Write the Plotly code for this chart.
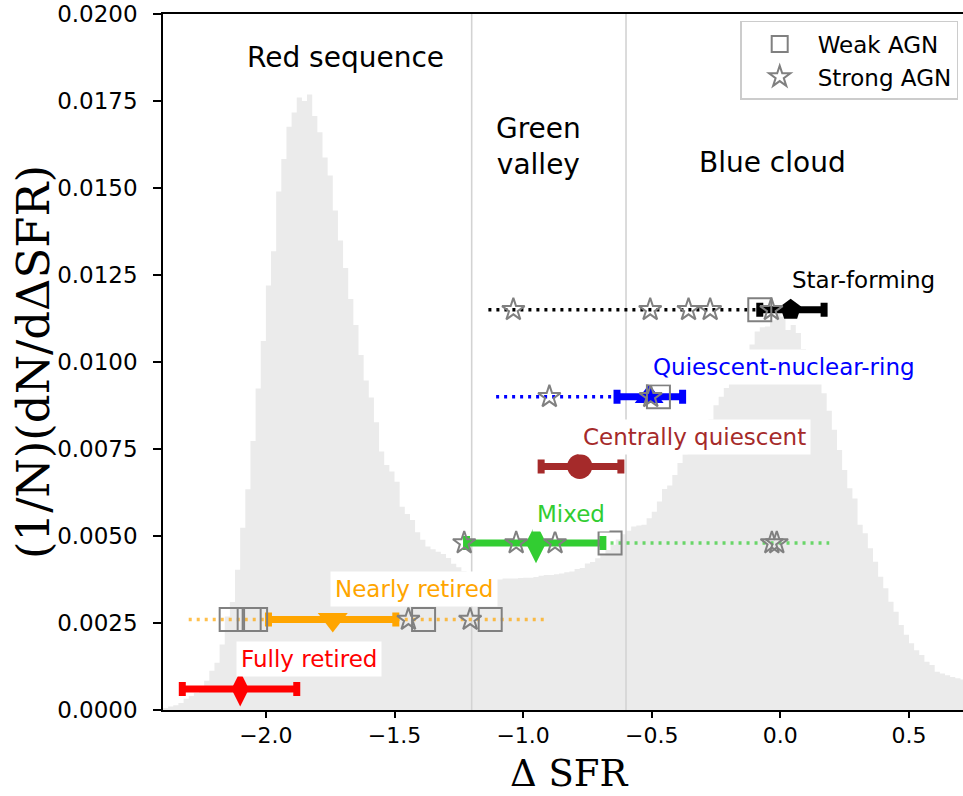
import plotly.graph_objects as go

# ---------------------------------------------------------------------------
# Parent-sample distribution of ΔSFR (normalised histogram, 0.02 dex bins)
# ---------------------------------------------------------------------------
hist_start = -2.40
hist_width = 0.02
hist_density = [
    0.00006, 0.00010, 0.00014, 0.00020, 0.00032, 0.00040, 0.00049, 0.00067,
    0.00084, 0.00113, 0.00136, 0.00188, 0.00269, 0.00310, 0.00403, 0.00524,
    0.00634, 0.00773, 0.00924, 0.01060, 0.01220, 0.01318, 0.01490, 0.01583,
    0.01676, 0.01717, 0.01760, 0.01750, 0.01769, 0.01707, 0.01660, 0.01588,
    0.01536, 0.01435, 0.01349, 0.01270, 0.01181, 0.01106, 0.01020, 0.00947,
    0.00898, 0.00827, 0.00743, 0.00704, 0.00685, 0.00656, 0.00584, 0.00563,
    0.00546, 0.00511, 0.00489, 0.00470, 0.00462, 0.00455, 0.00448, 0.00437,
    0.00420, 0.00410, 0.00399, 0.00392, 0.00388, 0.00384, 0.00380, 0.00377,
    0.00375, 0.00375, 0.00378, 0.00378, 0.00378, 0.00379, 0.00380, 0.00380,
    0.00382, 0.00386, 0.00388, 0.00388, 0.00390, 0.00392, 0.00396, 0.00398,
    0.00405, 0.00408, 0.00421, 0.00425, 0.00436, 0.00445, 0.00460, 0.00475,
    0.00490, 0.00505, 0.00515, 0.00527, 0.00530, 0.00532, 0.00551, 0.00570,
    0.00599, 0.00635, 0.00645, 0.00675, 0.00710, 0.00735, 0.00750, 0.00770,
    0.00795, 0.00815, 0.00835, 0.00876, 0.00900, 0.00925, 0.00950, 0.00970,
    0.00995, 0.01015, 0.01050, 0.01088, 0.01100, 0.01102, 0.01120, 0.01140,
    0.01130, 0.01092, 0.01106, 0.01083, 0.01037, 0.01010, 0.00980, 0.00950,
    0.00910, 0.00860, 0.00805, 0.00747, 0.00690, 0.00637, 0.00608, 0.00532,
    0.00508, 0.00465, 0.00426, 0.00383, 0.00350, 0.00311, 0.00282, 0.00244,
    0.00216, 0.00192, 0.00172, 0.00158, 0.00139, 0.00129, 0.00110, 0.00105,
    0.00100, 0.00095, 0.00091, 0.00088,
]

# Boundaries between red sequence / green valley / blue cloud
region_edges = [-1.2, -0.6]
region_names = ["Red sequence", "Green<br>valley", "Blue cloud"]
region_label_x = [-1.69, -0.94, -0.03]
region_label_y = [0.01874, 0.01620, 0.01572]

# ---------------------------------------------------------------------------
# Galaxy classes: median ΔSFR with spread, plus the full ΔSFR range
# ---------------------------------------------------------------------------
classes = ["Star-forming", "Quiescent-nuclear-ring", "Centrally quiescent",
           "Mixed", "Nearly retired", "Fully retired"]
class_colors = ["black", "blue", "brown", "limegreen", "orange", "red"]
range_colors = ["black", "blue", None, "rgba(50,205,50,0.7)",
                "rgba(255,165,0,0.7)", None]
class_y = [0.0115, 0.0090, 0.0070, 0.0048, 0.0026, 0.0006]
class_median = [0.04, -0.51, -0.78, -0.95, -1.74, -2.10]
class_err_minus = [0.12, 0.125, 0.15, 0.27, 0.25, 0.225]
class_err_plus = [0.13, 0.13, 0.16, 0.26, 0.245, 0.22]
class_symbols = ["pentagon", "triangle-up", "circle", "diamond-tall",
                 "triangle-down", "diamond-tall"]
class_marker_size = [22, 25, 25, 29, 26, 25]
class_range_lo = [-1.135, -1.105, None, -1.22, -2.30, None]
class_range_hi = [0.04, -0.51, None, 0.19, -0.91, None]
label_x = [0.325, 0.014, -0.332, -0.813, -1.424, -1.831]
label_y = [0.01236, 0.00986, 0.00784, 0.00563, 0.00348, 0.00147]

# ΔSFR of AGN hosts in each class
weak_agn = [[-0.08], [-0.474], [], [-0.662],
            [-2.135, -2.065, -2.04, -1.387, -1.128], []]
strong_agn = [[-1.038, -0.506, -0.357, -0.273, -0.035],
              [-0.898, -0.504], [],
              [-1.229, -1.027, -0.876, -0.033, -0.014],
              [-1.446, -1.206], []]

x_range = [-2.4, 0.71]
y_range = [0.0, 0.02]
x_ticks = [-2.0, -1.5, -1.0, -0.5, 0.0, 0.5]
y_ticks = [0.0, 0.0025, 0.005, 0.0075, 0.01, 0.0125, 0.015, 0.0175, 0.02]
x_title = "\u0394 SFR"
y_title = "(1/N)(dN/d\u0394SFR)"

fig = go.Figure()

# Histogram drawn as a filled step curve
edges = [hist_start + i * hist_width for i in range(len(hist_density) + 1)]
fig.add_trace(go.Scatter(
    x=edges, y=hist_density + [hist_density[-1]], mode="lines",
    line=dict(shape="hv", width=0, color="#ebebeb"),
    fill="tozeroy", fillcolor="#ebebeb",
    hoverinfo="skip", showlegend=False,
))

# Region boundaries
for xe in region_edges:
    fig.add_trace(go.Scatter(
        x=[xe, xe], y=y_range, mode="lines",
        line=dict(color="#d3d3d3", width=1.6),
        hoverinfo="skip", showlegend=False,
    ))

# Full ΔSFR range of each class (dotted)
for lo, hi, y, col in zip(class_range_lo, class_range_hi, class_y, range_colors):
    if lo is None:
        continue
    fig.add_trace(go.Scatter(
        x=[lo, hi], y=[y, y], mode="lines",
        line=dict(color=col, width=3.5, dash="3px,5px"),
        hoverinfo="skip", showlegend=False,
    ))

# Median and spread of each class
for name, m, y, em, ep, col, sym, sz in zip(
        classes, class_median, class_y, class_err_minus, class_err_plus,
        class_colors, class_symbols, class_marker_size):
    fig.add_trace(go.Scatter(
        x=[m], y=[y], mode="markers", name=name,
        marker=dict(symbol=sym, size=sz, color=col, line=dict(width=0)),
        error_x=dict(type="data", symmetric=False, array=[ep],
                     arrayminus=[em], color=col, thickness=7, width=7),
        showlegend=False,
    ))

# AGN hosts
wx, wy = [], []
for y, xs in zip(class_y, weak_agn):
    wx += xs
    wy += [y] * len(xs)
sx, sy = [], []
for y, xs in zip(class_y, strong_agn):
    sx += xs
    sy += [y] * len(xs)

fig.add_trace(go.Scatter(
    x=wx, y=wy, mode="markers", name="Weak AGN",
    marker=dict(symbol="square-open", size=23, color="grey",
                line=dict(width=2, color="grey")),
))
fig.add_trace(go.Scatter(
    x=sx, y=sy, mode="markers", name="Strong AGN",
    marker=dict(symbol="star-open", size=17, color="grey",
                line=dict(width=2, color="grey")),
))

# Class labels
for name, lx, ly, col in zip(classes, label_x, label_y, class_colors):
    fig.add_annotation(
        x=lx, y=ly, xref="x", yref="y", text=name, showarrow=False,
        font=dict(family="DejaVu Sans", size=23, color=col),
        bgcolor="white", borderpad=4,
    )

# Region labels
for name, lx, ly in zip(region_names, region_label_x, region_label_y):
    fig.add_annotation(
        x=lx, y=ly, xref="x", yref="y", text=name, showarrow=False,
        font=dict(family="DejaVu Sans", size=28, color="black"),
    )

# Axis titles
fig.add_annotation(
    x=0.5075, y=-0.1236, xref="paper", yref="paper",
    xanchor="center", yanchor="bottom", text=x_title, showarrow=False,
    borderpad=0, font=dict(family="DejaVu Serif", size=37, color="black"),
)
fig.add_annotation(
    x=-0.1625, y=0.5, xref="paper", yref="paper",
    xanchor="center", yanchor="middle", text=y_title, showarrow=False,
    textangle=-90, borderpad=0,
    font=dict(family="DejaVu Serif", size=45, color="black"),
)

fig.update_layout(
    width=963, height=796,
    margin=dict(l=163, r=0, t=14, b=86),
    plot_bgcolor="white", paper_bgcolor="white",
    font=dict(family="DejaVu Sans", size=22, color="black"),
    showlegend=True,
    legend=dict(
        x=0.994, y=0.99, xanchor="right", yanchor="top",
        bgcolor="white", bordercolor="#cccccc", borderwidth=1.5,
        font=dict(family="DejaVu Sans", size=23, color="black"),
        itemwidth=66,
    ),
)

fig.update_xaxes(
    range=x_range, tickvals=x_ticks,
    ticktext=[f"{v:.1f}".replace("-", "\u2212") for v in x_ticks],
    ticks="outside", ticklen=6, tickwidth=1.5, tickcolor="black",
    ticklabelstandoff=-1,
    showline=True, linecolor="black", linewidth=1.5, mirror=True,
    showgrid=False, zeroline=False,
    tickfont=dict(family="DejaVu Sans", size=22),
)
fig.update_yaxes(
    range=y_range, tickvals=y_ticks,
    ticktext=[f"{v:.4f}" for v in y_ticks],
    ticks="outside", ticklen=8, tickwidth=1.5, tickcolor="black",
    ticklabelstandoff=11,
    showline=True, linecolor="black", linewidth=1.5,
    showgrid=False, zeroline=False,
    tickfont=dict(family="DejaVu Sans", size=23),
)

fig.write_html("out.html", config={"displayModeBar": False})
